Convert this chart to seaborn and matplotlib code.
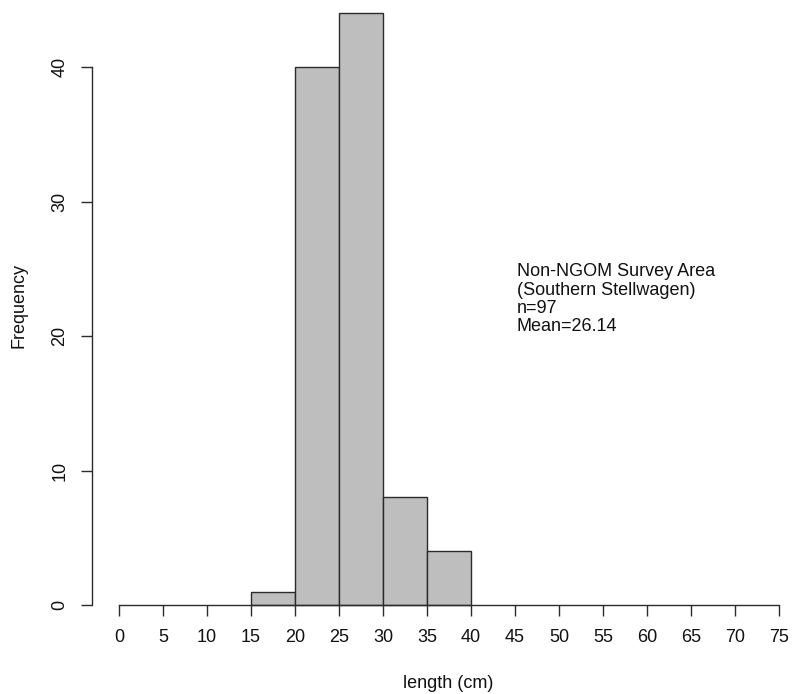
import matplotlib
matplotlib.use("Agg")
import matplotlib.pyplot as plt
import seaborn as sns
import numpy as np

bin_edges = [15, 20, 25, 30, 35, 40]
counts = [1, 40, 44, 8, 4]
x_ticks = list(range(0, 80, 5))
y_ticks = [0, 10, 20, 30, 40]
annotation = ["Non-NGOM Survey Area", "(Southern Stellwagen)", "n=97", "Mean=26.14"]

sns.set_style("white")
plt.rcParams['font.family'] = ['Liberation Sans', 'DejaVu Sans']

W, H = 794, 694
fig = plt.figure(figsize=(W / 100, H / 100), dpi=100)

# pixel geometry
x0_px, x75_px = 119, 779
y0_px, y40_px = 605, 67
sx = (x75_px - x0_px) / 75.0
sy = (y0_px - y40_px) / 40.0
ax_l, ax_r, ax_t, ax_b = 80, 790, 5, 615
ax = fig.add_axes([ax_l / W, 1 - ax_b / H, (ax_r - ax_l) / W, (ax_b - ax_t) / H])
ax.set_xlim((ax_l - x0_px) / sx, (ax_r - x0_px) / sx)
ax.set_ylim(-(ax_b - y0_px) / sy, (y0_px - ax_t) / sy)

mids = [(bin_edges[i] + bin_edges[i + 1]) / 2 for i in range(len(counts))]
sns.histplot(x=mids, weights=counts, bins=bin_edges, ax=ax, color="#BEBEBE",
             edgecolor="#2b2b2b", linewidth=1.0, alpha=1.0, zorder=2)

for s in ["top", "right"]:
    ax.spines[s].set_visible(False)
ax.spines["bottom"].set_position(("data", 0))
ax.spines["bottom"].set_bounds(0, 75)
ax.spines["left"].set_position(("data", (92 - x0_px) / sx))
ax.spines["left"].set_bounds(0, 40)
for s in ["bottom", "left"]:
    ax.spines[s].set_color("#2b2b2b")
    ax.spines[s].set_linewidth(1.0)
    ax.spines[s].set_zorder(3)

ax.set_xticks(x_ticks)
ax.set_xticklabels([str(t) for t in x_ticks])
ax.set_yticks(y_ticks)
ax.set_yticklabels([str(t) for t in y_ticks], rotation=90, va="center")
ax.tick_params(axis="both", which="major", direction="out", length=8, width=1.0,
               color="#2b2b2b", labelsize=13, labelcolor="#111111", pad=9,
               bottom=True, left=True)

ax.set_xlabel("length (cm)", fontsize=13, color="#111111")
ax.set_ylabel("Frequency", fontsize=13, color="#111111")
ax.xaxis.set_label_coords((448 - ax_l) / (ax_r - ax_l), 1 - (683 - ax_t) / (ax_b - ax_t))
ax.yaxis.set_label_coords((19 - ax_l) / (ax_r - ax_l), 1 - (305 - ax_t) / (ax_b - ax_t))
ax.xaxis.label.set_va("center")
ax.yaxis.label.set_va("center")

ax.text(45.2, 25.4, "\n".join(annotation), ha="left", va="top", fontsize=13,
        color="#111111", linespacing=1.1)

fig.savefig("out.png", dpi=100, facecolor="white")
